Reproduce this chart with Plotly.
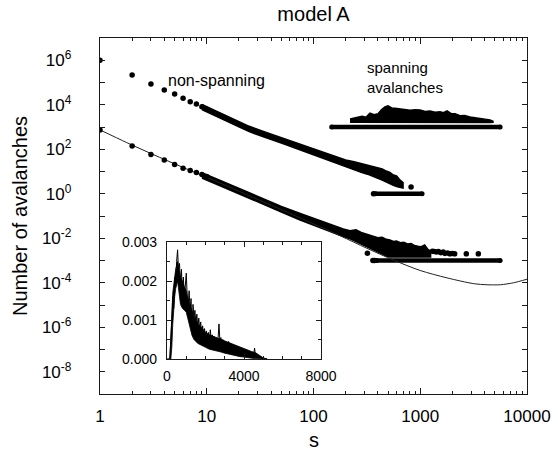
import plotly.graph_objects as go

# ---------------- DATA (log10 of number of avalanches) ----------------
# non-spanning avalanches (upper curve), individual points
upper_s = [1, 2, 3, 4, 5, 6, 7, 8, 9, 10]
upper_log = [6.00, 5.34, 4.93, 4.66, 4.48, 4.29, 4.14, 4.03, 3.91, 3.80]

# dense band of the upper curve: top / bottom envelope
upper_band_s = [9, 12, 16, 20, 25, 35, 50, 75, 110, 160, 200, 240, 280, 320, 360,
                400, 440, 480, 520, 560, 600, 640, 690]
upper_band_top = [4.02, 3.74, 3.47, 3.25, 3.03, 2.78, 2.52, 2.23, 1.95, 1.68, 1.52,
                  1.44, 1.36, 1.28, 1.24, 1.16, 1.12, 1.02, 0.96, 0.84, 0.80, 0.64, 0.50]
upper_band_bot = [3.78, 3.50, 3.23, 3.01, 2.79, 2.54, 2.28, 1.99, 1.70, 1.40, 1.22,
                  1.08, 0.96, 0.88, 0.80, 0.70, 0.62, 0.54, 0.46, 0.38, 0.32, 0.28, 0.26]
upper_extra_s = [365, 820]
upper_extra_log = [0.0, 0.30]
upper_floor_s = [380, 1040]
upper_floor_log = [0.0, 0.0]

# normalised curve (lower)
lower_s = [1, 2, 3, 4, 5, 6, 7, 8, 9, 10]
lower_log = [2.87, 2.15, 1.76, 1.52, 1.32, 1.15, 1.04, 0.95, 0.86, 0.78]
lower_band_s = [9, 12, 16, 20, 25, 35, 50, 75, 110, 140, 160, 190, 220, 250, 280, 310,
                340, 370, 400, 440, 480, 520, 560, 600, 650, 700, 760, 820, 880, 950,
                1020, 1100, 1180, 1250]
lower_band_top = [0.95, 0.70, 0.45, 0.25, 0.04, -0.26, -0.57, -0.88, -1.18, -1.36, -1.45,
                  -1.58, -1.66, -1.62, -1.74, -1.80, -1.86, -1.92, -1.98, -1.96, -2.05,
                  -2.08, -2.14, -2.12, -2.20, -2.18, -2.26, -2.24, -2.32, -2.36, -2.38,
                  -2.30, -2.50, -2.58]
lower_band_bot = [0.71, 0.46, 0.21, 0.01, -0.20, -0.50, -0.82, -1.18, -1.50, -1.68, -1.78,
                  -1.92, -2.02, -2.12, -2.26, -2.36, -2.45, -2.55, -2.62, -2.72, -2.80,
                  -2.84, -2.84, -2.84, -2.84, -2.84, -2.84, -2.84, -2.84, -2.84, -2.84,
                  -2.84, -2.84, -2.84]
lower_extra_s = [320, 360, 373, 1300, 1350, 1420, 1480, 1560, 1640, 1700, 1800, 1900,
                 2000, 2100, 2700, 3500]
lower_extra_log = [-2.67, -3.0, -3.0, -2.58, -2.60, -2.62, -2.60, -2.65, -2.62, -2.68,
                   -2.66, -2.70, -2.68, -2.70, -2.70, -2.70]
lower_floor_s = [390, 5600]
lower_floor_log = [-3.0, -3.0]

# fit curve through the normalised data
fit_s = [1, 1.78, 3.16, 5.62, 10, 17.8, 31.6, 56.2, 100, 178, 316, 562, 1000, 1778,
         3162, 4217, 5623, 7499, 10000]
fit_log = [2.87, 2.30, 1.76, 1.24, 0.74, 0.22, -0.30, -0.82, -1.35, -1.89, -2.45,
           -2.98, -3.45, -3.78, -4.04, -4.09, -4.09, -4.00, -3.84]

# spanning avalanches
span_floor_s = [148, 5600]
span_floor_log = [3.0, 3.0]
span_s = [220, 245, 285, 310, 338, 370, 402, 435, 467, 499, 540, 580, 646, 720, 801,
          900, 995, 1110, 1234, 1380, 1531, 1650, 1782, 1950, 2118, 2357, 2600, 2925,
          3250, 3630, 4050, 4501, 4800]
span_top = [3.36, 3.40, 3.48, 3.44, 3.62, 3.55, 3.60, 3.78, 3.90, 3.95, 3.86, 3.84,
            3.81, 3.76, 3.75, 3.78, 3.76, 3.70, 3.72, 3.66, 3.69, 3.64, 3.72, 3.60,
            3.60, 3.51, 3.52, 3.45, 3.42, 3.39, 3.36, 3.32, 3.26]
span_bot = [3.21, 3.21, 3.20, 3.20, 3.20, 3.20, 3.20, 3.20, 3.20, 3.20, 3.20, 3.20,
            3.20, 3.20, 3.20, 3.20, 3.20, 3.20, 3.20, 3.20, 3.20, 3.20, 3.20, 3.20,
            3.20, 3.20, 3.20, 3.20, 3.20, 3.20, 3.20, 3.20, 3.21]

# inset: distribution of spanning avalanche sizes (units of 1e-3)
inset_env_s = [150, 200, 250, 300, 350, 400, 450, 500, 550, 600, 650, 700, 800, 900,
               1000, 1100, 1200, 1300, 1400, 1500, 1600, 1800, 2000, 2200, 2400, 2600,
               2800, 3000, 3200, 3400, 3600, 3800, 4000, 4200, 4400, 4600, 4800, 5000,
               5200]
inset_env_top = [0, 0.4, 1.1, 1.7, 1.9, 2.2, 2.3, 2.4, 2.5, 2.3, 2.25, 2.1, 2.0, 1.85,
                 1.75, 1.5, 1.35, 1.25, 1.1, 1.0, 0.9, 0.8, 0.68, 0.62, 0.58, 0.54, 0.5,
                 0.45, 0.41, 0.38, 0.35, 0.31, 0.27, 0.23, 0.19, 0.16, 0.09, 0.03, 0]
inset_env_bot = [0, 0.0, 0.3, 0.9, 1.3, 1.6, 1.8, 1.9, 2.0, 1.7, 1.6, 1.4, 1.3, 1.25,
                 1.2, 1.0, 0.8, 0.6, 0.5, 0.45, 0.4, 0.35, 0.3, 0.25, 0.22, 0.2, 0.18,
                 0.15, 0.12, 0.1, 0.08, 0.06, 0.05, 0.04, 0.02, 0.01, 0, 0, 0]
inset_s = list(range(0, 5250, 50))
inset_val_e3 = [0, 0, 0, 0.05, 0.4, 1.0, 1.6, 1.3, 2.1, 1.9, 2.5, 2.8, 2.2, 2.45, 1.9,
                2.3, 1.7, 2.1, 1.55, 2.0, 2.2, 1.6, 1.35, 1.75, 1.2, 1.55, 0.7, 1.4,
                1.05, 1.25, 0.9, 1.15, 0.8, 1.05, 0.75, 0.95, 0.65, 0.85, 0.6, 0.78,
                0.55, 0.72, 0.5, 0.68, 0.45, 0.75, 0.48, 0.62, 0.42, 0.58, 0.4, 0.55,
                0.38, 0.5, 0.9, 0.45, 0.55, 0.35, 0.5, 0.3, 0.45, 0.28, 0.42, 0.3,
                0.45, 0.25, 0.4, 0.22, 0.38, 0.25, 0.35, 0.2, 0.33, 0.18, 0.3, 0.15,
                0.28, 0.15, 0.25, 0.12, 0.22, 0.1, 0.2, 0.08, 0.15, 0.1, 0.18, 0.06,
                0.15, 0.05, 0.12, 0.28, 0.05, 0.15, 0.03, 0.1, 0.02, 0.05, 0.01, 0.02,
                0, 0, 0, 0, 0]

y_major_exp = [-8, -6, -4, -2, 0, 2, 4, 6]
y_minor_exp = [-9, -7, -5, -3, -1, 1, 3, 5, 7]
x_tick_vals = [1, 10, 100, 1000, 10000]
x_tick_text = ["1", "10", "100", "1000", "10000"]
x_minor_vals = [m * d for d in (1, 10, 100, 1000) for m in range(2, 10)]

# ---------------- FIGURE ----------------
FONT = "Liberation Sans, Arial, Helvetica, sans-serif"
INK = "#000000"
AX = "#1a1a1a"
MS = 5.5


def p(v):
    return [10 ** a for a in v]


def poly(xs, top, bot):
    return xs + xs[::-1], p(top) + p(bot[::-1])


fig = go.Figure()

# filled dense bands
for xs, top, bot in [(upper_band_s, upper_band_top, upper_band_bot),
                     (lower_band_s, lower_band_top, lower_band_bot),
                     (span_s, span_top, span_bot)]:
    px_, py_ = poly(xs, top, bot)
    fig.add_trace(go.Scatter(x=px_, y=py_, mode="lines", fill="toself",
                             fillcolor=INK, line=dict(color=INK, width=1.5),
                             hoverinfo="skip", showlegend=False))

# floors (count = 1 rows)
for xs, ys in [(upper_floor_s, upper_floor_log), (lower_floor_s, lower_floor_log),
               (span_floor_s, span_floor_log)]:
    fig.add_trace(go.Scatter(x=xs, y=p(ys), mode="lines+markers",
                             line=dict(color=INK, width=4.5),
                             marker=dict(color=INK, size=5),
                             showlegend=False))

# fit curve
fig.add_trace(go.Scatter(x=fit_s, y=p(fit_log), mode="lines",
                         line=dict(color="#222222", width=1, shape="spline", smoothing=0.8),
                         showlegend=False))

# discrete points
for xs, ys in [(upper_s, upper_log), (lower_s, lower_log),
               (upper_extra_s, upper_extra_log), (lower_extra_s, lower_extra_log)]:
    fig.add_trace(go.Scatter(x=xs, y=p(ys), mode="markers",
                             marker=dict(color=INK, size=MS, line=dict(width=0)),
                             showlegend=False))

# inset: dense envelope + noisy line
fig.add_trace(go.Scatter(x=inset_env_s + inset_env_s[::-1],
                         y=[v / 1000 for v in inset_env_top + inset_env_bot[::-1]],
                         mode="lines", fill="toself", fillcolor=INK,
                         line=dict(color=INK, width=0.8), xaxis="x2", yaxis="y2",
                         hoverinfo="skip", showlegend=False))
fig.add_trace(go.Scatter(x=inset_s, y=[v / 1000 for v in inset_val_e3], mode="lines",
                         line=dict(color=INK, width=1), xaxis="x2", yaxis="y2",
                         showlegend=False))

axis_common = dict(showline=True, linecolor=AX, linewidth=1.4, mirror="ticks",
                   ticks="inside", tickcolor=AX, showgrid=False, zeroline=False,
                   automargin=False,
                   tickfont=dict(family=FONT, size=17, color=INK))

fig.update_layout(
    width=558, height=453,
    margin=dict(l=100, r=31, t=38, b=59, autoexpand=False),
    paper_bgcolor="white", plot_bgcolor="white",
    font=dict(family=FONT, color=INK),
    title=dict(text="model A", x=0.5, xref="paper", y=1 - 14 / 453, yref="container",
               xanchor="center", yanchor="middle",
               font=dict(family=FONT, size=20, color=INK)),
    xaxis=dict(type="log", range=[0, 4], tickmode="array", tickvals=x_tick_vals,
               ticktext=x_tick_text, ticklen=6, tickwidth=1.2,
               minor=dict(tickmode="array", tickvals=x_minor_vals, ticks="inside",
                          ticklen=3, tickcolor=AX, showgrid=False),
               ticklabelstandoff=6,
               **axis_common),
    yaxis=dict(type="log", range=[-9, 7], tickmode="array",
               tickvals=[10 ** e for e in y_major_exp],
               ticktext=["10<sup>%d</sup>" % e for e in y_major_exp],
               ticklen=5, tickwidth=1.2, ticklabelstandoff=24,
               minor=dict(tickmode="array", tickvals=[10 ** e for e in y_minor_exp],
                          ticks="inside", ticklen=5, tickwidth=1.2, tickcolor=AX,
                          showgrid=False),
               title=dict(text="Number of avalanches",
                          font=dict(family=FONT, size=20, color=INK), standoff=8),
               **axis_common),
    xaxis2=dict(domain=[(167 - 100) / 427, (321 - 100) / 427], anchor="y2", range=[0, 8000],
                tickmode="array", tickvals=[0, 4000, 8000], ticktext=["0", "4000", "8000"],
                ticklen=5, tickwidth=1,
                minor=dict(tickmode="array", tickvals=[1000, 2000, 3000, 5000, 6000, 7000],
                           ticks="inside", ticklen=3, tickcolor=AX, showgrid=False),
                showline=True, linecolor=AX, linewidth=1.2, mirror="ticks",
                ticks="inside", tickcolor=AX, showgrid=False, zeroline=False,
                ticklabelstandoff=4, automargin=False,
                tickfont=dict(family=FONT, size=14, color=INK)),
    yaxis2=dict(domain=[(394 - 359) / 356, (394 - 242) / 356], anchor="x2", range=[0, 0.003],
                tickmode="array", tickvals=[0, 0.001, 0.002, 0.003],
                ticktext=["0.000", "0.001", "0.002", "0.003"], ticklen=5, tickwidth=1,
                minor=dict(tickmode="array", tickvals=[0.0005, 0.0015, 0.0025],
                           ticks="inside", ticklen=3, tickcolor=AX, showgrid=False),
                showline=True, linecolor=AX, linewidth=1.2, mirror="ticks",
                ticks="inside", tickcolor=AX, showgrid=False, zeroline=False,
                ticklabelstandoff=6, automargin=False,
                tickfont=dict(family=FONT, size=14, color=INK)),
    annotations=[
        dict(text="s", x=0.5, y=-(440 - 394) / 356, xref="paper", yref="paper",
             xanchor="center", yanchor="middle", showarrow=False,
             font=dict(family=FONT, size=20, color=INK)),
        dict(text="non-spanning", x=0.618, y=5.07, xref="x", yref="y",
             xanchor="left", yanchor="middle", showarrow=False,
             font=dict(family=FONT, size=16, color=INK)),
        dict(text="spanning<br>avalanches", x=2.482, y=5.225, xref="x", yref="y",
             xanchor="left", yanchor="middle", align="left", showarrow=False,
             font=dict(family=FONT, size=15, color=INK)),
    ],
)

fig.write_html("out.html")
